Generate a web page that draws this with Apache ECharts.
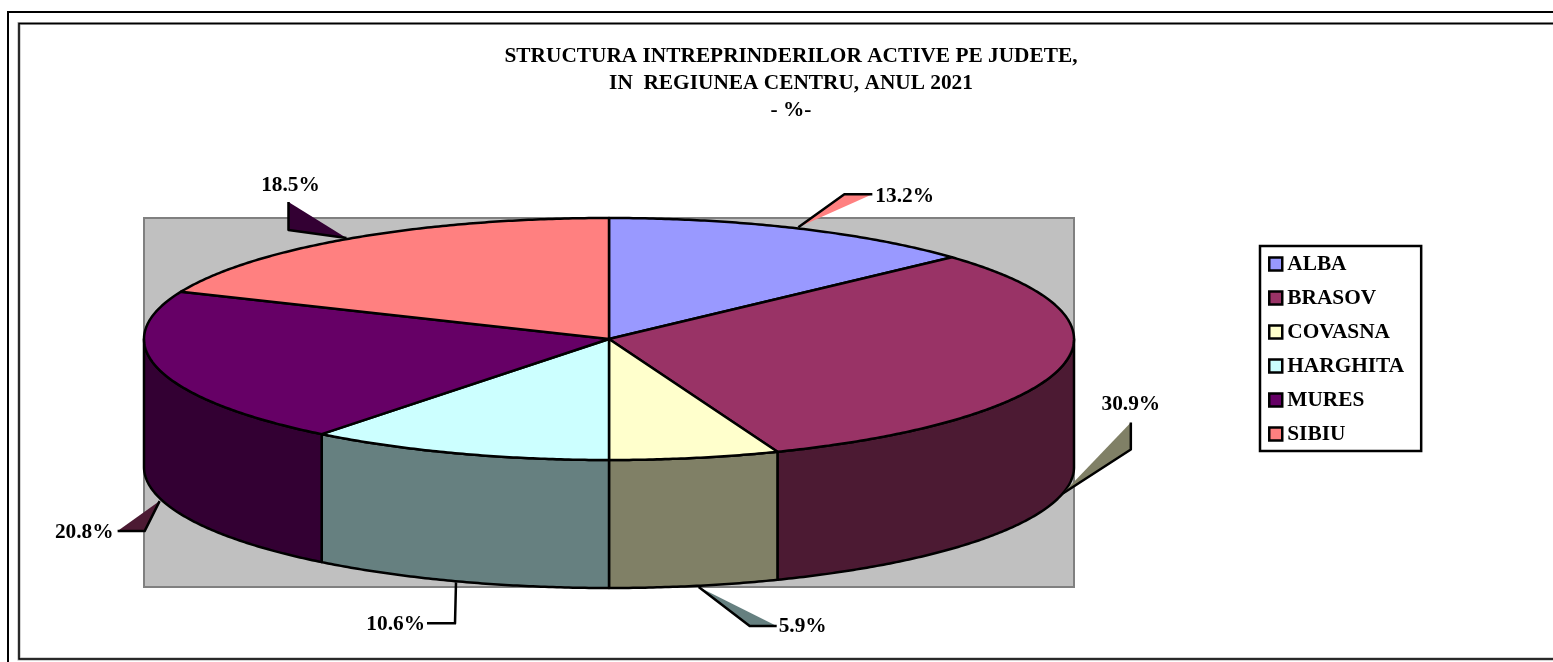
<!DOCTYPE html>
<html>
<head>
<meta charset="utf-8">
<style>html,body{margin:0;padding:0;background:#fff}#c{width:1553px;height:662px}</style>
<script src="https://cdn.jsdelivr.net/npm/echarts@6/dist/echarts.min.js"></script>
</head>
<body>
<div id="c"></div>
<script>
const CATEGORIES = ['ALBA', 'BRASOV', 'COVASNA', 'HARGHITA', 'MURES', 'SIBIU'];
const VALUES = [13.2, 30.9, 5.9, 10.6, 20.8, 18.5];
const LABELS = ['13.2%', '30.9%', '5.9%', '10.6%', '20.8%', '18.5%'];
const TOP_COLORS = ['#9999FF', '#993366', '#FFFFCC', '#CCFFFF', '#660066', '#FF8080'];
const SIDE_COLORS = ['#4C4C80', '#4C1A33', '#808066', '#668080', '#330033', '#804040'];
const WEDGE_COLORS = ['#FF8080', '#808066', '#668080', 'transparent', '#4C1A33', '#330033'];
const TITLE_LINES = ['STRUCTURA INTREPRINDERILOR ACTIVE PE JUDETE,', 'IN  REGIUNEA CENTRU, ANUL 2021', '- %-'];

// Layout of the leader lines, relative to the point on the pie where each one starts
const ANCHOR_NUDGE = [[2, -1], [1, -1], [4, 1], [-1, 1], [1, 4], [-6, 0]];
const ELBOW = [[48, -34], [69, -45], [55, 40], [-2, 42], [-14, 34], [-64, -8]];
const LINE_END = [[76, -34], [69, -72], [82, 40], [-30, 42], [-41, 34], [-64, -36]];
const TEXT_POS = [[3, 2, 'left'], [0, -18, 'center'], [2, 1, 'left'], [-2, 1, 'right'], [-4, 1, 'right'], [2, -17, 'center']];

const SERIF = '"Liberation Serif","Times New Roman",serif';
const CX = 609, CY = 339, RX = 465, RY = 121, DEPTH = 128, LW = 2.5;
// The shares are percentages; the rounded values leave a sliver that the last slice closes
const START = VALUES.reduce((acc, v, i) => {
  acc.push(i === VALUES.length - 1 ? 360 : acc[i] + v * 3.6);
  return acc;
}, [0]);

function pt(deg, dy) {
  const r = deg * Math.PI / 180;
  return [CX + RX * Math.sin(r), CY - RY * Math.cos(r) + (dy || 0)];
}
function arc(a, b, dy) {
  const pts = [], n = Math.max(2, Math.ceil(Math.abs(b - a) * 2));
  for (let k = 0; k <= n; k++) pts.push(pt(a + (b - a) * k / n, dy));
  return pts;
}
const edge = { stroke: '#000', lineWidth: LW, lineJoin: 'round' };

function renderSlice(i) {
  return function () {
    const a = START[i], b = START[i + 1], children = [];
    const sa = Math.max(a, 90), sb = Math.min(b, 270);
    if (sb > sa) {
      children.push({
        type: 'polygon', z2: 1,
        shape: { points: arc(sa, sb, 0).concat(arc(sb, sa, DEPTH)) },
        style: Object.assign({ fill: SIDE_COLORS[i] }, edge)
      });
    }
    children.push({
      type: 'polygon', z2: 2,
      shape: { points: [[CX, CY]].concat(arc(a, b, 0)) },
      style: Object.assign({ fill: TOP_COLORS[i] }, edge)
    });
    const mid = (a + b) / 2;
    const front = mid > 90 && mid < 270;
    const p = pt(mid, front ? DEPTH : 0);
    const p0 = [p[0] + ANCHOR_NUDGE[i][0], p[1] + ANCHOR_NUDGE[i][1]];
    const p1 = [p[0] + ELBOW[i][0], p[1] + ELBOW[i][1]];
    const p2 = [p[0] + LINE_END[i][0], p[1] + LINE_END[i][1]];
    children.push({
      type: 'polygon', z2: 3,
      shape: { points: [p0, p1, p2] },
      style: { fill: WEDGE_COLORS[i], stroke: 'none' }
    });
    children.push({
      type: 'polyline', z2: 4,
      shape: { points: [p0, p1, p2] },
      style: { fill: 'none', stroke: '#000', lineWidth: LW, lineJoin: 'round' }
    });
    children.push({
      type: 'text', z2: 5,
      x: p2[0] + TEXT_POS[i][0], y: p2[1] + TEXT_POS[i][1],
      style: {
        text: LABELS[i], font: 'bold 21.33px ' + SERIF, fill: '#000',
        align: TEXT_POS[i][2], verticalAlign: 'middle'
      }
    });
    return { type: 'group', children };
  };
}

const chart = echarts.init(document.getElementById('c'), null, { renderer: 'canvas' });
chart.setOption({
  animation: false,
  backgroundColor: '#fff',
  title: {
    text: TITLE_LINES.join('\n'),
    left: 791, top: 43, textAlign: 'center',
    textStyle: { fontFamily: SERIF, fontWeight: 'bold', fontSize: 21.33, lineHeight: 27, color: '#000' },
    padding: 0
  },
  legend: {
    data: CATEGORIES,
    orient: 'vertical', left: 1260, top: 246,
    icon: 'rect', itemWidth: 13, itemHeight: 13, itemGap: 10, align: 'left',
    selectedMode: false,
    backgroundColor: '#fff', borderColor: '#000', borderWidth: 2.5, borderRadius: 0,
    padding: [6, 17, 5, 8],
    itemStyle: { borderColor: '#000', borderWidth: 2.5 },
    textStyle: { fontFamily: SERIF, fontWeight: 'bold', fontSize: 21.33, lineHeight: 24, color: '#000' }
  },
  graphic: [
    { type: 'rect', z: 0, shape: { x: 144, y: 218, width: 930, height: 369 }, style: { fill: '#C0C0C0', stroke: '#808080', lineWidth: 2 }, silent: true },
    { type: 'polyline', z: 0, shape: { points: [[8, 662], [8, 12], [1553, 12]] }, style: { fill: 'none', stroke: '#000', lineWidth: 2 }, silent: true },
    { type: 'polyline', z: 0, shape: { points: [[1553, 23.5], [19, 23.5], [19, 659], [1553, 659]] }, style: { fill: 'none', stroke: '#A8A8A8', lineWidth: 3 }, silent: true },
    { type: 'polyline', z: 0, shape: { points: [[1553, 23.5], [19, 23.5], [19, 659], [1553, 659]] }, style: { fill: 'none', stroke: '#000', lineWidth: 1.5 }, silent: true }
  ],
  series: CATEGORIES.map((name, i) => ({
    type: 'custom', name, coordinateSystem: 'none', silent: true,
    itemStyle: { color: TOP_COLORS[i] },
    data: [VALUES[i]],
    renderItem: renderSlice(i)
  }))
});
</script>
</body>
</html>
